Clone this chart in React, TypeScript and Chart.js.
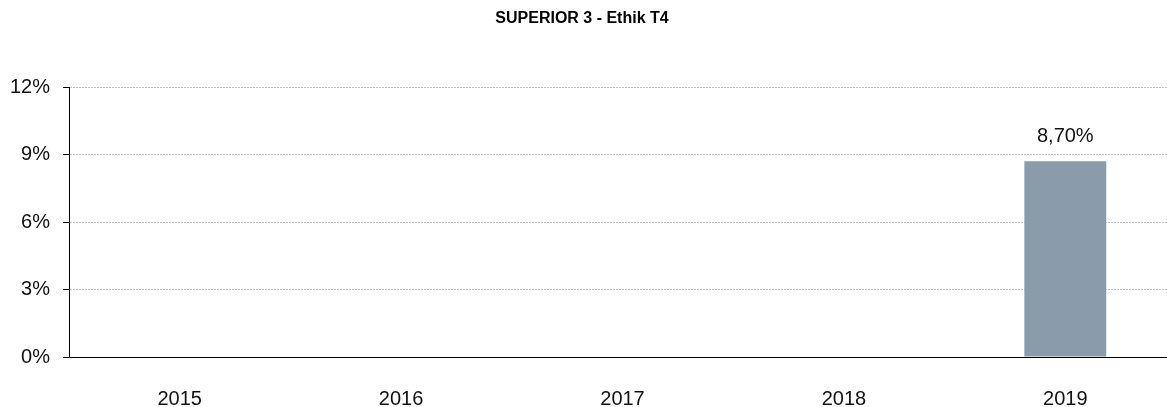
import React, { useEffect, useRef } from "react";
import { Chart, registerables } from "chart.js";

Chart.register(...registerables);

const TITLE = "SUPERIOR 3 - Ethik T4";
const categories = ["2015", "2016", "2017", "2018", "2019"];
const values: (number | null)[] = [null, null, null, null, 8.7];
const yTicks = [0, 3, 6, 9, 12];

const FONT = "'Liberation Sans', Arial, Helvetica, sans-serif";

const labelPlugin = {
  id: "customLabels",
  afterDatasetsDraw(chart: any) {
    const ctx = chart.ctx;
    ctx.save();
    ctx.font = `bold 16px ${FONT}`;
    ctx.fillStyle = "#000";
    ctx.textAlign = "center";
    ctx.textBaseline = "middle";
    ctx.fillText(TITLE, 582, 19);
    const meta = chart.getDatasetMeta(0);
    ctx.font = `20px ${FONT}`;
    ctx.fillStyle = "#111";
    meta.data.forEach((bar: any, i: number) => {
      const v = values[i];
      if (v === null || v === undefined) return;
      const txt = v.toFixed(2).replace(".", ",") + "%";
      ctx.fillText(txt, bar.x, bar.y - 25);
    });
    ctx.restore();
  },
};

export default function App() {
  const ref = useRef<HTMLCanvasElement | null>(null);
  useEffect(() => {
    if (!ref.current) return;
    const chart = new Chart(ref.current, {
      type: "bar",
      data: {
        labels: categories,
        datasets: [
          {
            data: values as any,
            backgroundColor: "#8A9BAB",
            borderColor: "#8A9BAB",
            borderWidth: 0,
            barPercentage: 0.37,
            categoryPercentage: 1,
          },
        ],
      },
      options: {
        responsive: false,
        animation: false,
        events: [],
        layout: { padding: { top: 87, right: 4, left: 0, bottom: 0 } },
        plugins: {
          legend: { display: false },
          title: { display: false },
          tooltip: { enabled: false },
        },
        scales: {
          x: {
            grid: { display: false, drawTicks: false },
            border: { display: true, color: "#000", width: 1 },
            ticks: {
              font: { family: FONT, size: 20 },
              color: "#111",
              padding: 30,
              maxRotation: 0,
              autoSkip: false,
            },
            afterFit(scale: any) {
              scale.height = 50;
            },
          },
          y: {
            min: 0,
            max: 12,
            afterBuildTicks(scale: any) {
              scale.ticks = yTicks.map((v) => ({ value: v }));
            },
            grid: {
              color: "#c4c4c4",
              lineWidth: 1,
              tickColor: "#000",
              tickLength: 6,
              tickWidth: 1,
              drawTicks: true,
            },
            border: { display: true, color: "#000", width: 1, dash: [2, 1] },
            ticks: {
              font: { family: FONT, size: 20 },
              color: "#111",
              padding: 13,
              callback: (v: any) => `${v}%`,
            },
            afterFit(scale: any) {
              scale.width = 69;
            },
          },
        },
      },
      plugins: [labelPlugin],
    });
    return () => chart.destroy();
  }, []);
  return (
    <div
      style={{
        position: "fixed",
        left: 0,
        top: 0,
        width: 1167,
        height: 407,
        overflow: "hidden",
        background: "#fff",
      }}
    >
      <canvas ref={ref} width={1180} height={407} style={{ display: "block" }} />
    </div>
  );
}
